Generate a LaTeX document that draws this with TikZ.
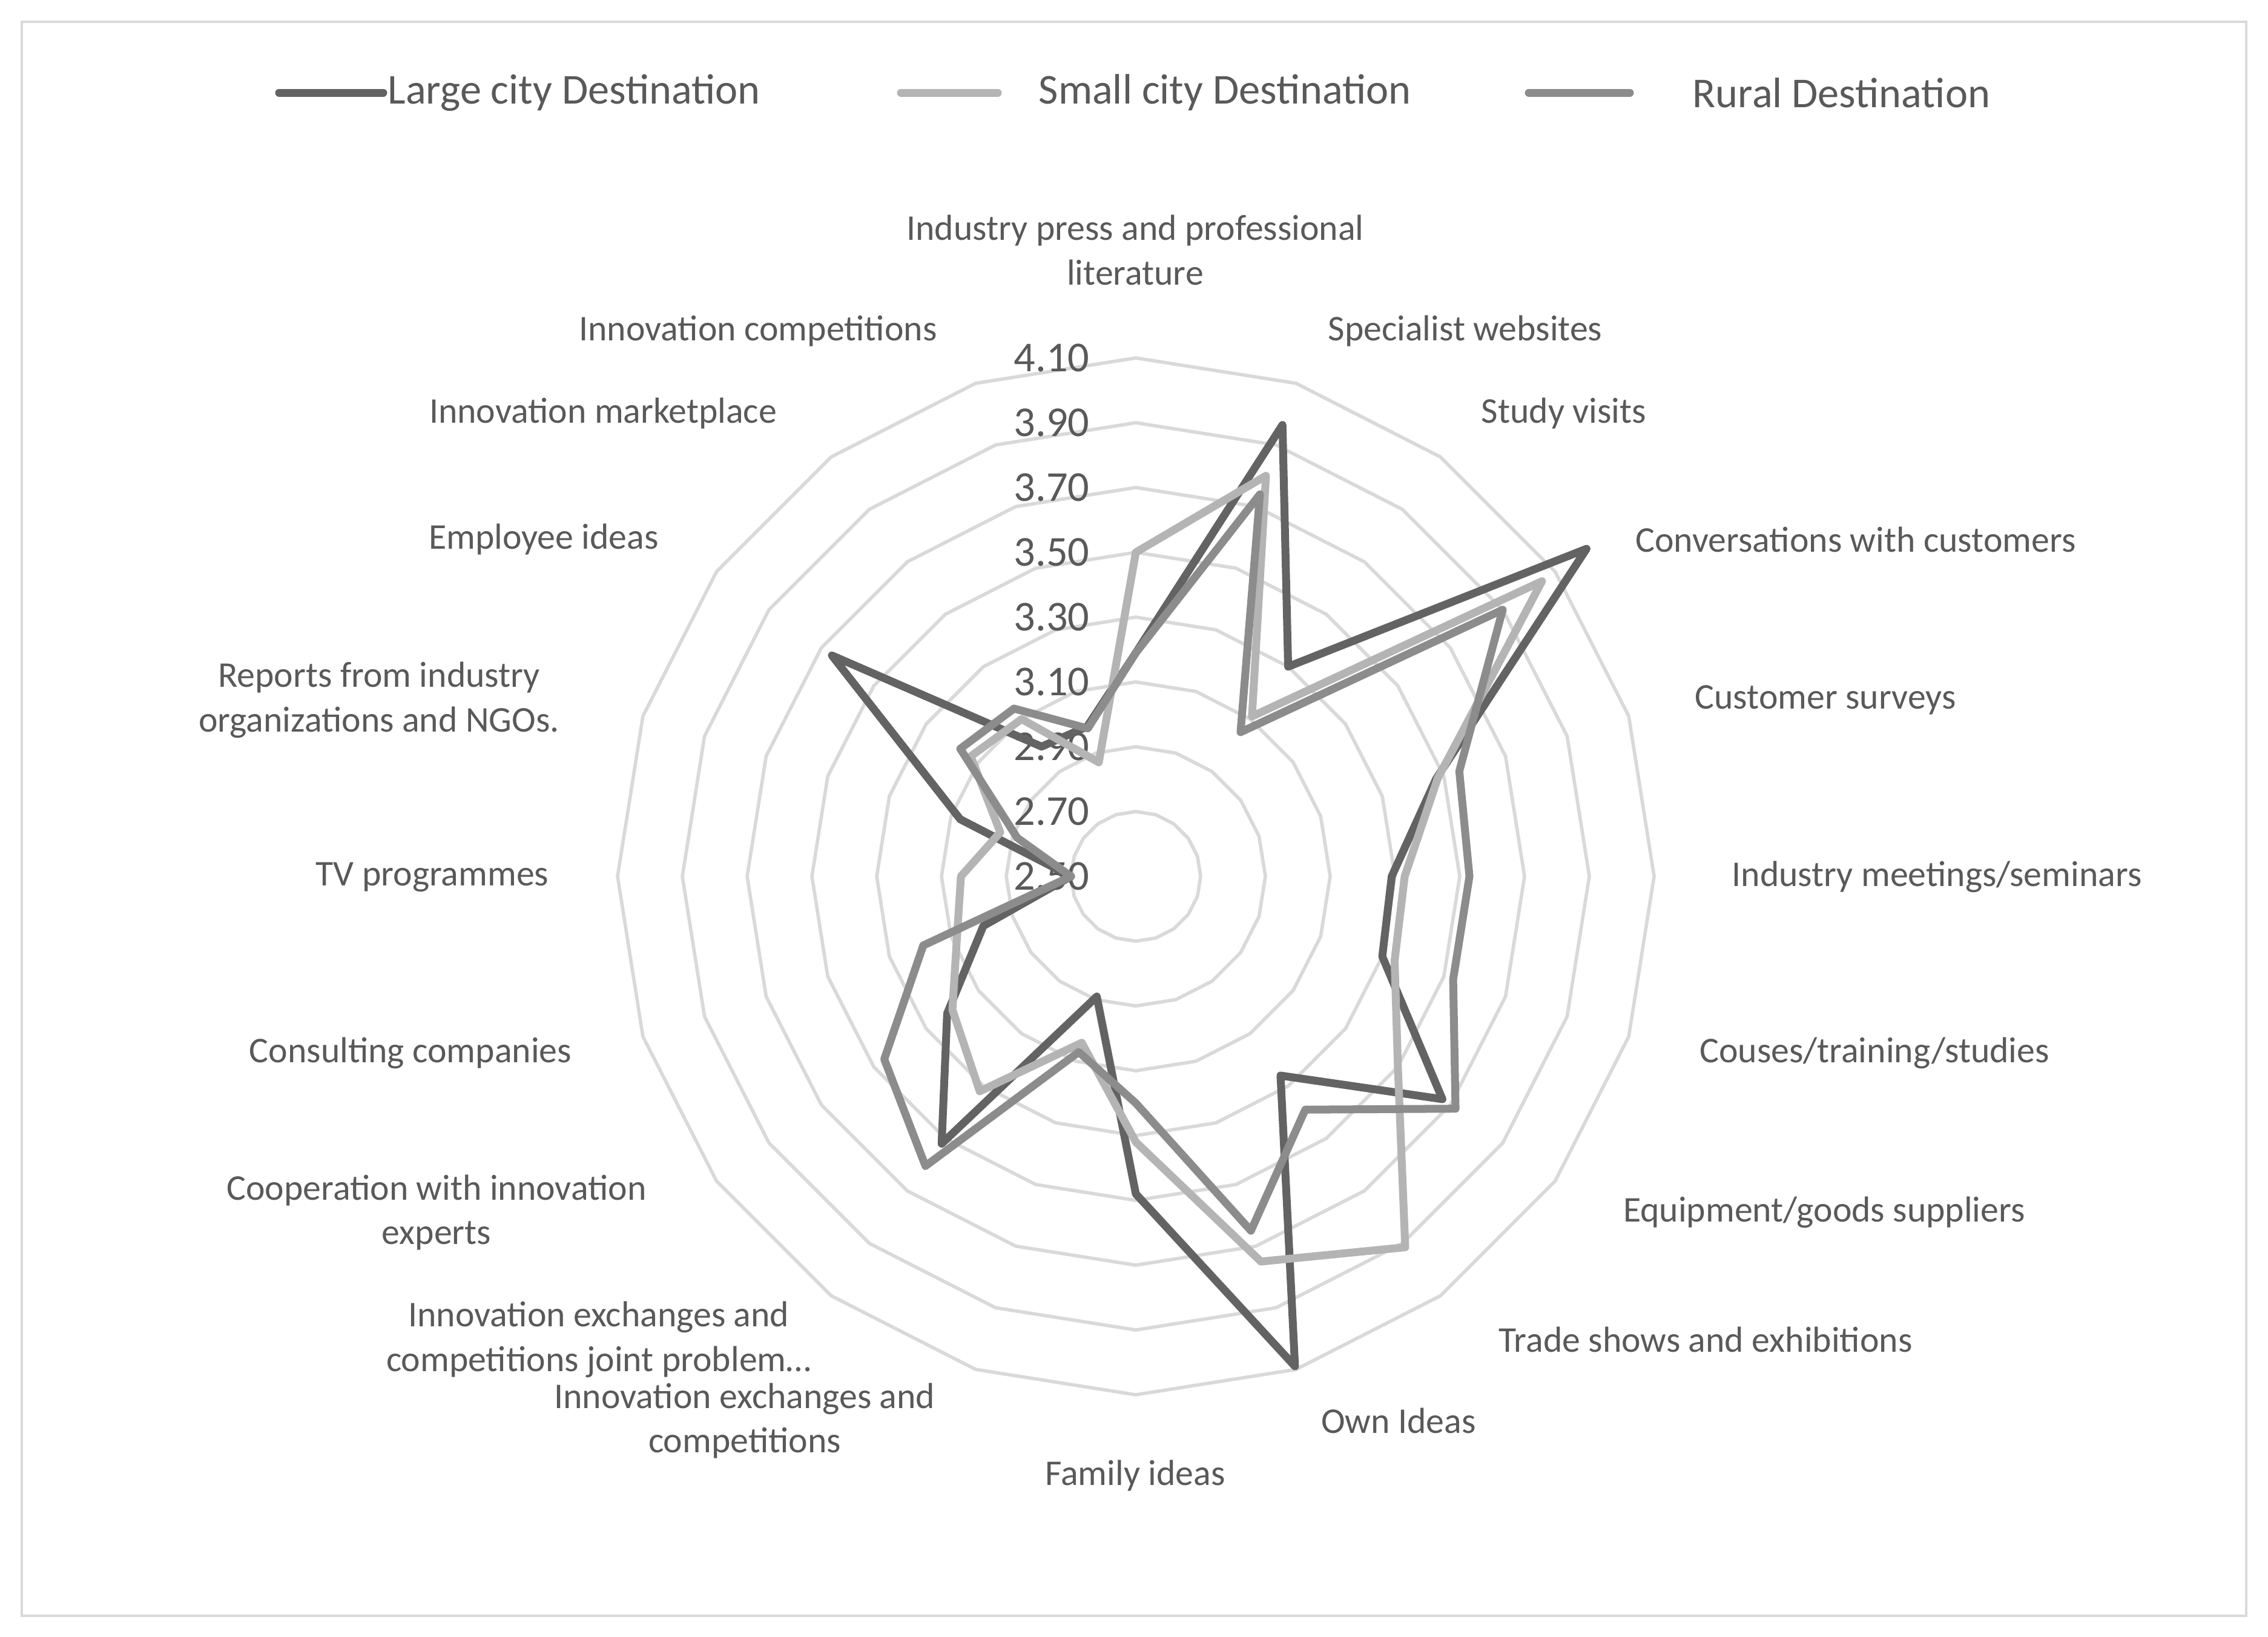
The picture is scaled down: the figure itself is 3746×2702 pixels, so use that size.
\documentclass[tikz,border=0pt]{standalone}
\usepackage{fontspec}
\setmainfont{Carlito}
\definecolor{txt}{HTML}{595959}
\definecolor{gridc}{HTML}{D9D9D9}
\definecolor{cLarge}{HTML}{636363}
\definecolor{cSmall}{HTML}{B4B4B4}
\definecolor{cRural}{HTML}{8C8C8C}
\tikzset{
  gridline/.style={draw=gridc, line width=1.6pt},
  series/.style={line width=3.7pt, line join=round, line cap=round},
  lab/.style={text=txt, font=\fontsize{17}{21}\selectfont, align=center, inner sep=0pt},
  axlab/.style={text=txt, font=\fontsize{20}{24}\selectfont, anchor=east, inner sep=0pt},
  leg/.style={text=txt, font=\fontsize{20}{24}\selectfont, anchor=west, inner sep=0pt}
}
\begin{document}
\begin{tikzpicture}[x=0.01cm,y=-0.01cm]
\useasboundingbox (0,0) rectangle (3746,2702);
\fill[white] (0,0) rectangle (3746,2702);
\draw[draw=gridc, line width=1.2pt] (36,36) rectangle (3710,2668);
% grid rings
\foreach \k in {1,...,8}{
  \draw[gridline] ({1876+107*\k*cos(90)},{1447-107*\k*sin(90)})
    \foreach \i in {1,...,19}{ -- ({1876+107*\k*cos(90-18*\i)},{1447-107*\k*sin(90-18*\i)}) } -- cycle;
}
% axis labels
\foreach \t [count=\k from 0] in {2.50,2.70,2.90,3.10,3.30,3.50,3.70,3.90,4.10}{
  \node[axlab] (ax\k) at (1800,{1447-107*\k}) {\t};
}
% series
\draw[series, draw=cLarge] ({1876+535*(3.19-2.5)*cos(90)},{1447-535*(3.19-2.5)*sin(90)})
  \foreach \v [count=\i from 1] in {3.965,3.30,4.22,3.475,3.29,3.30,3.67,3.26,4.09,3.48,2.89,3.52,3.22,2.995,2.70,3.07,3.66,2.995,2.986}
  { -- ({1876+535*(\v-2.5)*cos(90-18*\i)},{1447-535*(\v-2.5)*sin(90-18*\i)}) } -- cycle;
\draw[series, draw=cSmall] ({1876+535*(3.50-2.5)*cos(90)},{1447-535*(3.50-2.5)*sin(90)})
  \foreach \v [count=\i from 1] in {3.80,3.11,4.05,3.48,3.33,3.34,3.50,3.915,3.75,3.32,3.04,3.32,3.20,3.08,3.04,2.94,3.13,3.10,2.87}
  { -- ({1876+535*(\v-2.5)*cos(90-18*\i)},{1447-535*(\v-2.5)*sin(90-18*\i)}) } -- cycle;
\draw[series, draw=cRural] ({1876+535*(3.19-2.5)*cos(90)},{1447-535*(3.19-2.5)*sin(90)})
  \foreach \v [count=\i from 1] in {3.74,3.05,3.90,3.55,3.53,3.53,3.72,3.39,3.65,3.20,3.07,3.605,3.46,3.19,2.70,2.885,3.17,3.14,2.98}
  { -- ({1876+535*(\v-2.5)*cos(90-18*\i)},{1447-535*(\v-2.5)*sin(90-18*\i)}) } -- cycle;
% category labels
\node[lab] (c0) at (1875,413) {Industry press and professional\\literature};
\node[lab] (c1) at (2420,547) {Specialist websites};
\node[lab] (c2) at (2583,683) {Study visits};
\node[lab] (c3) at (3065,891) {Conversations with customers};
\node[lab] (c4) at (3015,1156) {Customer surveys};
\node[lab] (c5) at (3199,1448) {Industry meetings/seminars};
\node[lab] (c6) at (3096,1739) {Couses/training/studies};
\node[lab] (c7) at (3013,2002) {Equipment/goods suppliers};
\node[lab] (c8) at (2817,2212) {Trade shows and exhibitions};
\node[lab] (c9) at (2310,2346) {Own Ideas};
\node[lab] (c10) at (1875,2437) {Family ideas};
\node[lab] (c11) at (1230,2346) {Innovation exchanges and\\competitions};
\node[lab] (c12) at (989,2212) {Innovation exchanges and\\competitions joint problem\ldots};
\node[lab] (c13) at (721,2002) {Cooperation with innovation\\experts};
\node[lab] (c14) at (678,1739) {Consulting companies};
\node[lab] (c15) at (714,1448) {TV programmes};
\node[lab] (c16) at (626,1156) {Reports from industry\\organizations and NGOs.};
\node[lab] (c17) at (898,891) {Employee ideas};
\node[lab] (c18) at (996,683) {Innovation marketplace};
\node[lab] (c19) at (1252,547) {Innovation competitions};
% legend
\coordinate (l1a) at (461,153); \coordinate (l1b) at (633,153);
\coordinate (l2a) at (1488,153); \coordinate (l2b) at (1648,153);
\coordinate (l3a) at (2525,153); \coordinate (l3b) at (2692,153);
\draw[series, draw=cLarge, line cap=round] (l1a) -- (l1b);
\draw[series, draw=cSmall, line cap=round] (l2a) -- (l2b);
\draw[series, draw=cRural, line cap=round] (l3a) -- (l3b);
\node[leg] (t1) at (640,153) {Large city Destination};
\node[leg] (t2) at (1715,153) {Small city Destination};
\node[leg] (t3) at (2795,153) {Rural Destination};
\end{tikzpicture}
\end{document}
